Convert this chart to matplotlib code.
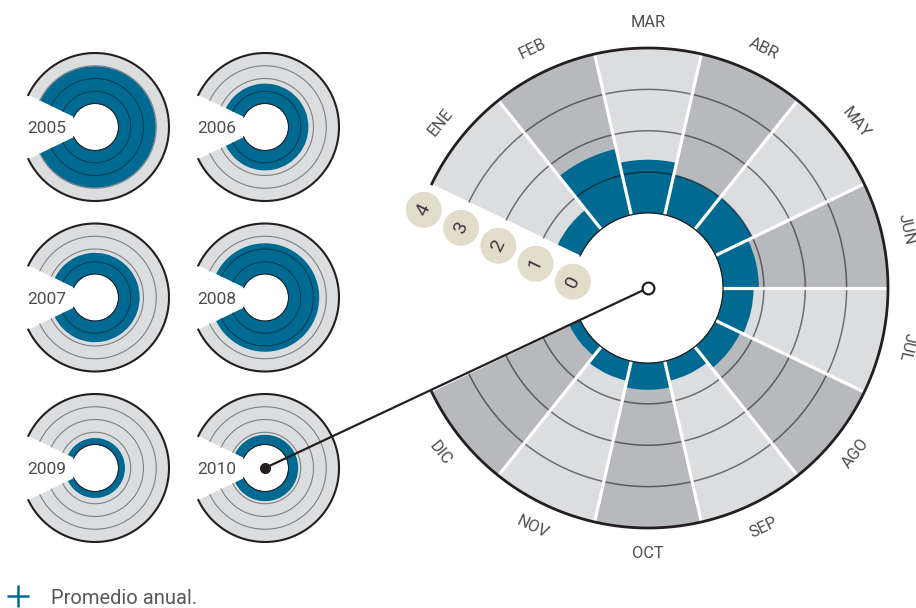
import numpy as np
import matplotlib.pyplot as plt
from matplotlib import transforms
from matplotlib.lines import Line2D
from matplotlib.patches import ConnectionPatch

plt.rcParams['font.family'] = ['Roboto', 'DejaVu Sans']

# datos
meses = ['ENE', 'FEB', 'MAR', 'ABR', 'MAY', 'JUN',
         'JUL', 'AGO', 'SEP', 'OCT', 'NOV', 'DIC']
valores_2010 = [0.62, 1.65, 1.30, 1.00, 1.00, 0.88,
                0.75, 0.68, 0.50, 0.66, 0.50, 0.30]
anios = ['2005', '2006', '2007', '2008', '2009', '2010']
promedios = [2.95, 1.60, 1.70, 2.45, 0.55, 0.80]
escala = [0, 1, 2, 3, 4]

AZUL = '#006a93'
GRIS_CLARO = '#dcdddf'
GRIS_OSCURO = '#b8b9bd'
NEGRO = '#231f20'
TEXTO = '#4d4d4f'
BEIGE = '#e2dccb'

RMAX = 4
ORIGEN = 1.8              # hueco central
PASO = 2 * np.pi / 14     # 12 meses + hueco de 2
centros = np.pi - PASO * (1.5 + np.arange(12))
arco = np.linspace(np.pi - PASO, -np.pi + PASO, 400)

W, H = 916, 608
fig = plt.figure(figsize=(W / 100, H / 100), dpi=100)


def eje_polar(cx, cy, radio):
    ax = fig.add_axes([(cx - radio) / W, (H - cy - radio) / H,
                       2 * radio / W, 2 * radio / H], projection='polar')
    ax.set_ylim(0, RMAX)
    ax.set_rorigin(-ORIGEN)
    ax.axis('off')
    return ax


# graficos pequeños (promedio anual)
posiciones = [(95, 127), (265, 127), (95, 297.5),
              (265, 297.5), (95, 468), (265, 468)]
pequenos = []
for anio, prom, (cx, cy) in zip(anios, promedios, posiciones):
    a = eje_polar(cx, cy, 74)
    a.bar(0, RMAX, width=12 * PASO, bottom=0, color=GRIS_CLARO, linewidth=0)
    a.bar(0, prom, width=12 * PASO, bottom=0, color=AZUL, linewidth=0)
    for r in escala[1:-1]:
        a.plot(arco, np.full_like(arco, r), color='black', alpha=0.42, lw=0.8)
    a.plot(arco, np.full_like(arco, RMAX), color=NEGRO, lw=1.5, clip_on=False)
    a.plot(arco, np.zeros_like(arco), color=NEGRO, lw=1.5)
    a.text(np.pi, 3.54, anio, ha='left', va='center_baseline',
           fontsize=12.5, color=TEXTO)
    pequenos.append(a)

# grafico grande (2010 por mes)
ax = eje_polar(648, 288, 240)
colores = [GRIS_CLARO if i % 2 == 0 else GRIS_OSCURO for i in range(12)]
ax.bar(centros, RMAX, width=PASO, bottom=0, color=colores, linewidth=0)
ax.bar(centros, valores_2010, width=PASO, bottom=0, color=AZUL, linewidth=0)
for r in escala[1:-1]:
    ax.plot(arco, np.full_like(arco, r), color='black', alpha=0.5, lw=1.1)
for b in centros[:-1] - PASO / 2:
    ax.plot([b, b], [0, RMAX], color='white', lw=2.3, solid_capstyle='butt')
ax.plot(arco, np.full_like(arco, RMAX), color=NEGRO, lw=2, clip_on=False)
ax.plot(arco, np.zeros_like(arco), color=NEGRO, lw=1.8)

for nombre, t in zip(meses, centros):
    grados = np.degrees(t)
    rot = grados - 90 if grados > -30 else grados + 90
    ax.text(t, 4.62, nombre, rotation=rot, rotation_mode='anchor',
            ha='center', va='center', fontsize=11.8, color=TEXTO)

# escala 0-4 junto al borde de ENE
borde = np.pi - PASO
trans = transforms.offset_copy(ax.transData, fig=fig, x=-8, y=-26, units='dots')
for k in escala:
    ax.text(borde, k, str(k), transform=trans, rotation=np.degrees(borde) - 90,
            rotation_mode='anchor', ha='center', va='center', fontsize=14,
            color='#3a3a3a',
            bbox=dict(boxstyle='circle,pad=0.46', fc=BEIGE, ec='none'))

# linea que une 2010 con el grafico grande
con = ConnectionPatch(xyA=(0, -ORIGEN), coordsA=pequenos[-1].transData,
                      xyB=(0, -ORIGEN), coordsB=ax.transData,
                      color=NEGRO, lw=1.6)
ax.add_artist(con)
pequenos[-1].plot(0, -ORIGEN, 'o', color=NEGRO, ms=7, zorder=5, clip_on=False)
ax.plot(0, -ORIGEN, 'o', mfc='white', mec=NEGRO, mew=1.6, ms=8.5, zorder=6,
        clip_on=False)
for a in pequenos + [ax]:
    a.set_ylim(0, RMAX)

handle = Line2D([], [], linestyle='none', marker='+', ms=16, mew=1.8, color=AZUL)
fig.legend([handle], ['Promedio anual.'], loc='center left',
           bbox_to_anchor=(4 / W, 1 - 598 / H), frameon=False, fontsize=14.5,
           handlelength=1.4, handletextpad=0.95, borderpad=0, borderaxespad=0,
           labelcolor='#58595b')

fig.savefig('out.png', dpi=100)
